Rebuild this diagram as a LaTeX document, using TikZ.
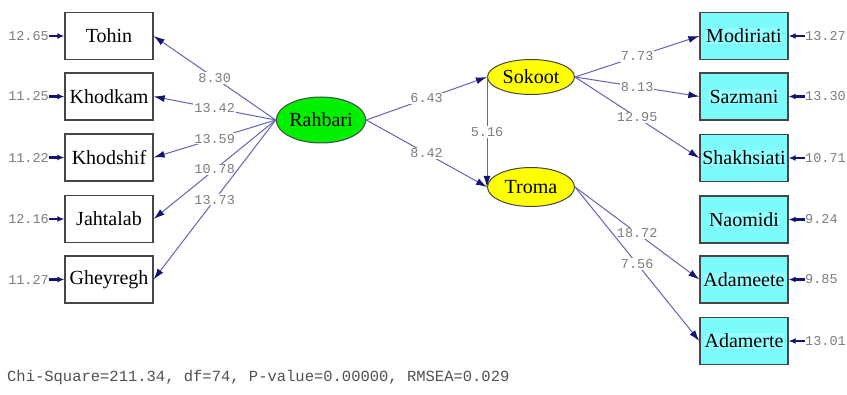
\documentclass[tikz,border=0pt]{standalone}
\usepackage{fontspec}
\setmainfont{Liberation Serif}
\newfontfamily\numfont{Liberation Mono}
\usetikzlibrary{arrows.meta,shapes.geometric}
\definecolor{linec}{RGB}{100,100,180}
\definecolor{tipc}{RGB}{20,20,115}
\definecolor{boxcyan}{RGB}{125,250,250}
\definecolor{hicyan}{RGB}{145,255,255}
\definecolor{edgec}{RGB}{70,70,70}
\definecolor{numc}{RGB}{125,125,125}
\definecolor{latgreen}{RGB}{0,240,0}
\definecolor{latyellow}{RGB}{255,255,0}
\setlength{\fboxsep}{0.5pt}
\tikzset{
  lbl/.style={font=\fontsize{20}{22}\selectfont},
  obsbox/.style={draw=edgec, line width=1.3pt, minimum width=88pt, minimum height=47pt, inner sep=0pt, lbl},
  obsleft/.style={obsbox, fill=white},
  obsright/.style={obsbox, fill=boxcyan},
  latent/.style={ellipse, draw=edgec, line width=1pt, minimum width=87pt, inner sep=0pt, lbl},
  path/.style={draw=linec, line width=1pt, -{Latex[length=11pt,width=7pt,color=tipc]}},
  errarr/.style={draw=tipc, line width=2.2pt, -{Latex[length=7pt,width=6pt]}},
  coef/.style={fill=white, inner sep=1pt, text=numc, font=\numfont\fontsize{13.5}{15}\selectfont},
  errlbl/.style={inner sep=0pt, text=numc, font=\numfont\fontsize{13.5}{15}\selectfont},
}
\newcommand{\hl}[1]{\colorbox{hicyan}{#1}}
\begin{document}
\begin{tikzpicture}[x=1pt,y=-1pt]
\useasboundingbox (0,0) rectangle (847,395);
\fill[white] (0,0) rectangle (847,395);

% left observed
\node[obsleft] (toh) at (109,36) {Tohin};
\node[obsleft] (kam) at (109,96.5) {Khodkam};
\node[obsleft] (shi) at (109,157.5) {Khodshif};
\node[obsleft] (jah) at (109,219) {Jahtalab};
\node[obsleft] (ghe) at (109,279.5) {Gheyregh};

% right observed
\node[obsright] (mod) at (744,36) {\hl{Modiriati}};
\node[obsright] (saz) at (744,96.5) {\hl{Sazmani}};
\node[obsright] (sha) at (744,158) {\hl{Shakhsiati}};
\node[obsright] (nao) at (744,219.5) {\hl{Naomidi}};
\node[obsright] (ade) at (744,279.5) {\hl{Adameete}};
\node[obsright] (adr) at (744,341) {\hl{Adamerte}};

% latent
\node[latent, fill=latgreen, minimum height=46pt] (rah) at (321,120) {Rahbari};
\node[latent, fill=latyellow, minimum height=35pt] (sok) at (531,77) {Sokoot};
\node[latent, fill=latyellow, minimum height=39pt] (tro) at (531,187) {Troma};

% error labels
\node[errlbl, anchor=east] (e1) at (49,36) {12.65};
\node[errlbl, anchor=east] (e2) at (49,96.5) {11.25};
\node[errlbl, anchor=east] (e3) at (49,157.5) {11.22};
\node[errlbl, anchor=east] (e4) at (49,219) {12.16};
\node[errlbl, anchor=east] (e5) at (49,279.5) {11.27};
\node[errlbl, anchor=west] (f1) at (805,36) {13.27};
\node[errlbl, anchor=west] (f2) at (805,96.5) {13.30};
\node[errlbl, anchor=west] (f3) at (805,158) {10.71};
\node[errlbl, anchor=west] (f4) at (805,219.5) {9.24};
\node[errlbl, anchor=west] (f5) at (805,279.5) {9.85};
\node[errlbl, anchor=west] (f6) at (805,341) {13.01};

\foreach \e/\b in {e1/toh,e2/kam,e3/shi,e4/jah,e5/ghe}
  \draw[errarr] (\e.east) -- (\b.west);
\foreach \e/\b in {f1/mod,f2/saz,f3/sha,f4/nao,f5/ade,f6/adr}
  \draw[errarr] (\e.west) -- (\b.east);

% paths from Rahbari
\draw[path] (rah.west) -- node[coef] {8.30} (toh.east);
\draw[path] (rah.west) -- node[coef] {13.42} (kam.east);
\draw[path] (rah.west) -- node[coef] {13.59} (shi.east);
\draw[path] (rah.west) -- node[coef] {10.78} (jah.east);
\draw[path] (rah.west) -- node[coef] {13.73} (ghe.east);

\draw[path] (rah.east) -- node[coef] {6.43} (sok.west);
\draw[path] (rah.east) -- node[coef] {8.42} (tro.west);
\draw[path] (sok.west) -- node[coef] {5.16} (tro.west);

\draw[path] (sok.east) -- node[coef] {7.73} (mod.west);
\draw[path] (sok.east) -- node[coef] {8.13} (saz.west);
\draw[path] (sok.east) -- node[coef] {12.95} (sha.west);

\draw[path] (tro.east) -- node[coef] {18.72} (ade.west);
\draw[path] (tro.east) -- node[coef] {7.56} (adr.west);

% fit statistics
\node[anchor=west, inner sep=0pt, text={rgb,255:red,80;green,80;blue,80}, font=\numfont\fontsize{15.5}{17}\selectfont] (fit) at (7,377) {Chi-Square=211.34, df=74, P-value=0.00000, RMSEA=0.029};
\end{tikzpicture}
\end{document}
